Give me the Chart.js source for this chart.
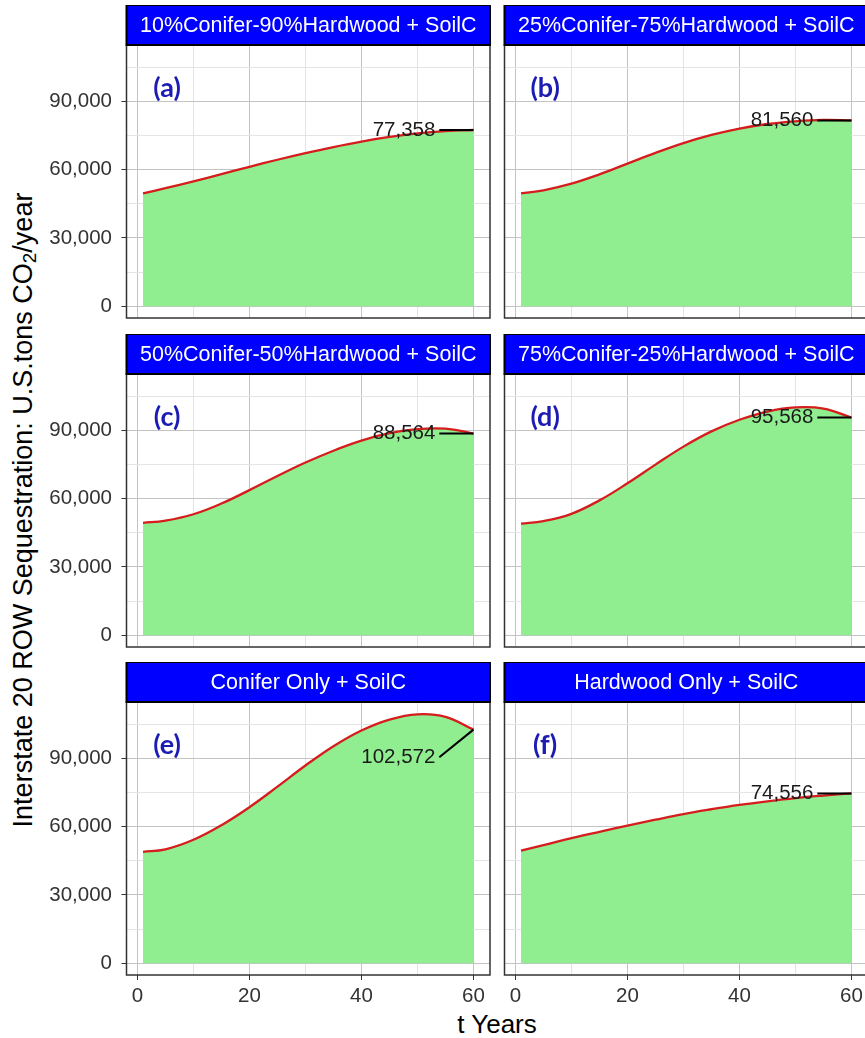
<!DOCTYPE html>
<html>
<head>
<meta charset="utf-8">
<script src="https://cdn.jsdelivr.net/npm/chart.js@4.4.1/dist/chart.umd.min.js"></script>
<style>
  html, body { margin: 0; padding: 0; background: #ffffff; overflow: hidden; }
  #page { position: relative; width: 865px; height: 1038px; overflow: hidden; background: #ffffff; }
  #page canvas { position: absolute; }
  .axis-title { position: absolute; font-family: 'Liberation Sans', Arial, sans-serif; font-size: 26px; color: #000; white-space: nowrap; line-height: 1; }
  .y-title { font-size: 27px; }
  .anchor { position: absolute; width: 0; height: 0; }
  .rot { position: absolute; left: 0; top: 0; transform: translate(-50%, -50%) rotate(-90deg); }
  .axis-title sub { font-size: 70%; vertical-align: -0.25em; line-height: 0; }
</style>
</head>
<body>
<div id="page">
  <div class="anchor" style="left:23px; top:510px;">
    <div class="axis-title y-title rot">Interstate 20 ROW Sequestration: U.S.tons CO<sub>2</sub>/year</div>
  </div>
  <div class="axis-title" style="left:0; width:994px; top:1011px; text-align:center;">t Years</div>
</div>
<script>
// ---- data: sequestration (U.S. tons CO2 / year) by year ----
const years = [1, 5, 10, 15, 20, 25, 30, 35, 40, 45, 50, 55, 60];
const mix10Conifer = [49500, 51800, 54800, 58000, 61200, 64300, 67200, 69900, 72300, 74300, 75900, 76900, 77358];
const mix25Conifer = [49500, 50900, 53800, 57900, 62600, 67300, 71600, 75200, 78000, 80000, 81200, 81800, 81560];
const mix50Conifer = [49300, 50300, 53100, 57800, 63700, 69900, 75800, 81000, 85400, 88700, 90500, 90700, 88564];
const mix75Conifer = [49000, 50100, 53300, 59200, 66700, 74900, 82800, 89500, 94600, 98200, 100000, 99500, 95568];
const coniferOnly  = [48900, 50000, 54200, 60600, 68500, 77500, 86800, 95300, 102200, 107000, 109300, 108200, 102572];
const hardwoodOnly = [49400, 51800, 54900, 57700, 60400, 63000, 65500, 67600, 69500, 71100, 72500, 73600, 74556];

const panelSeries = [mix10Conifer, mix25Conifer, mix50Conifer, mix75Conifer, coniferOnly, hardwoodOnly];
const panelTitles = [
  '10%Conifer-90%Hardwood + SoilC',
  '25%Conifer-75%Hardwood + SoilC',
  '50%Conifer-50%Hardwood + SoilC',
  '75%Conifer-25%Hardwood + SoilC',
  'Conifer Only + SoilC',
  'Hardwood Only + SoilC'
];
const panelTags = ['(a)', '(b)', '(c)', '(d)', '(e)', '(f)'];

// tick labels (major) and minor grid positions
const xMajorTicks = [0, 20, 40, 60];
const xMinorTicks = [10, 30, 50];
const yMajorTicks = [0, 30000, 60000, 90000];
const yMinorTicks = [15000, 45000, 75000, 105000];

// ---- layout of the facet grid ----
const FONT = "'Liberation Sans', Arial, sans-serif";
const GRID = {
  colLeft: [0, 495],        // canvas left per column
  yAxisW: [126.5, 9.5],     // space left of the panel per column
  stripTop: [5, 333.5, 662],
  stripH: 40,
  plotW: 363.5,
  plotH: 273,
  below: 40,
  padRight: 5
};
const X_RANGE = [-1.95, 62.95];
const Y_RANGE = [-5200, 114700];
// where the end-value label sits (x in years; vertical lift in tons)
const LABEL_POS = { textRight: 53.2, lineStart: 53.9 };
const LABEL_LIFT = [0, 0, 0, 0, -12150, 0];
const TAG_POS = { x: 5.3, y: 95800 };

const allX = xMajorTicks.concat(xMinorTicks).sort((a, b) => a - b);
const allY = yMajorTicks.concat(yMinorTicks).sort((a, b) => a - b);
const fmt = v => v.toLocaleString('en-US');

const facetDecor = {
  id: 'facetDecor',
  afterDatasetsDraw(chart, args, opts) {
    const ctx = chart.ctx;
    const xs = chart.scales.x, ys = chart.scales.y;
    const pts = chart.data.datasets[0].data;
    const last = pts[pts.length - 1];
    const px = xs.getPixelForValue(last.x), py = ys.getPixelForValue(last.y);
    const ly = ys.getPixelForValue(last.y + opts.lift);
    ctx.save();
    // value label with leader line
    ctx.strokeStyle = '#000';
    ctx.lineWidth = 2;
    ctx.beginPath();
    ctx.moveTo(xs.getPixelForValue(LABEL_POS.lineStart), ly);
    ctx.lineTo(px, py);
    ctx.stroke();
    ctx.fillStyle = '#1a1a1a';
    ctx.font = '20.5px ' + FONT;
    ctx.textAlign = 'right';
    ctx.textBaseline = 'middle';
    ctx.fillText(fmt(last.y), xs.getPixelForValue(LABEL_POS.textRight), ly);
    // panel tag
    ctx.fillStyle = '#1c1cb4';
    ctx.font = "bold 27px Lato, 'Open Sans', sans-serif";
    ctx.textAlign = 'center';
    ctx.fillText(opts.tag, xs.getPixelForValue(TAG_POS.x), ys.getPixelForValue(TAG_POS.y));
    ctx.restore();
  },
  afterDraw(chart, args, opts) {
    const ctx = chart.ctx;
    const a = chart.chartArea;
    ctx.save();
    // panel border
    ctx.strokeStyle = '#333333';
    ctx.lineWidth = 1.5;
    ctx.strokeRect(a.left, a.top, a.right - a.left, a.bottom - a.top);
    // strip
    const top = a.top - GRID.stripH;
    ctx.fillStyle = '#0000ff';
    ctx.fillRect(a.left, top, a.right - a.left, GRID.stripH);
    ctx.strokeStyle = '#000000';
    ctx.lineWidth = 2;
    ctx.strokeRect(a.left, top, a.right - a.left, GRID.stripH);
    ctx.fillStyle = '#ffffff';
    ctx.font = '21.5px ' + FONT;
    ctx.textAlign = 'center';
    ctx.textBaseline = 'middle';
    ctx.fillText(opts.title, (a.left + a.right) / 2, top + GRID.stripH / 2 + 1);
    ctx.restore();
  }
};

function makePanel(i) {
  const col = i % 2, row = Math.floor(i / 2);
  const bottomRow = row === 2;
  const leftCol = col === 0;
  const canvas = document.createElement('canvas');
  const w = GRID.yAxisW[col] + GRID.plotW + GRID.padRight;
  const h = GRID.stripH + GRID.plotH + GRID.below;
  canvas.width = Math.ceil(w);
  canvas.height = Math.ceil(h);
  canvas.style.left = GRID.colLeft[col] + 'px';
  canvas.style.top = GRID.stripTop[row] + 'px';
  canvas.style.width = Math.ceil(w) + 'px';
  canvas.style.height = Math.ceil(h) + 'px';
  document.getElementById('page').appendChild(canvas);

  const data = years.map((t, k) => ({ x: t, y: panelSeries[i][k] }));
  const isMajorX = v => xMajorTicks.includes(v);
  const isMajorY = v => yMajorTicks.includes(v);

  new Chart(canvas, {
    type: 'line',
    data: {
      datasets: [{
        data: data,
        borderColor: '#d61c1c',
        borderWidth: 2.3,
        backgroundColor: '#90ee90',
        fill: 'origin',
        pointRadius: 0,
        tension: 0.4
      }]
    },
    options: {
      responsive: false,
      animation: false,
      devicePixelRatio: 1,
      layout: { padding: { top: GRID.stripH, left: 0, right: canvas.width - w + GRID.padRight, bottom: 0 } },
      plugins: {
        legend: { display: false },
        tooltip: { enabled: false },
        facetDecor: { title: panelTitles[i], tag: panelTags[i], lift: LABEL_LIFT[i] }
      },
      scales: {
        x: {
          type: 'linear',
          min: X_RANGE[0], max: X_RANGE[1],
          afterBuildTicks: s => { s.ticks = allX.map(v => ({ value: v })); },
          afterFit: s => { s.height = GRID.below; },
          border: { display: false },
          grid: {
            color: c => isMajorX(c.tick.value) ? '#c3c3c3' : '#e4e4e4',
            lineWidth: 1,
            drawTicks: bottomRow,
            tickLength: 5,
            tickColor: c => isMajorX(c.tick.value) ? '#333333' : 'rgba(0,0,0,0)'
          },
          ticks: {
            display: bottomRow,
            autoSkip: false,
            maxRotation: 0,
            padding: 4,
            color: '#333333',
            font: { family: FONT, size: 20.5 },
            callback: v => isMajorX(v) ? String(v) : ''
          }
        },
        y: {
          type: 'linear',
          position: 'left',
          min: Y_RANGE[0], max: Y_RANGE[1],
          afterBuildTicks: s => { s.ticks = allY.map(v => ({ value: v })); },
          afterFit: s => { s.width = GRID.yAxisW[col]; },
          border: { display: false },
          grid: {
            color: c => isMajorY(c.tick.value) ? '#c3c3c3' : '#e4e4e4',
            lineWidth: 1,
            drawTicks: leftCol,
            tickLength: 5,
            tickColor: c => isMajorY(c.tick.value) ? '#333333' : 'rgba(0,0,0,0)'
          },
          ticks: {
            display: leftCol,
            autoSkip: false,
            padding: 9.5,
            color: '#333333',
            font: { family: FONT, size: 20.5 },
            callback: v => isMajorY(v) ? fmt(v) : ''
          }
        }
      }
    },
    plugins: [facetDecor]
  });
}

for (let i = 0; i < 6; i++) makePanel(i);
</script>
</body>
</html>
